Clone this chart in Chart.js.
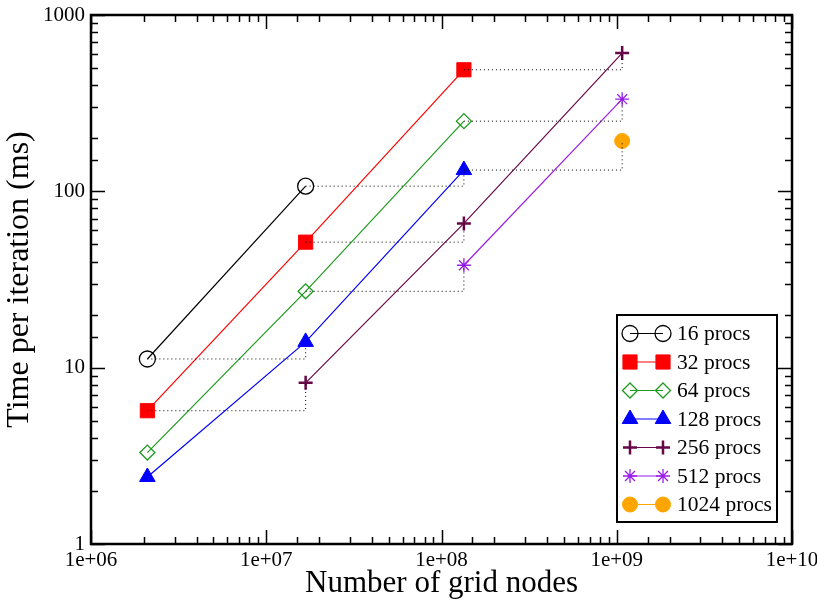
<!DOCTYPE html>
<html>
<head>
<meta charset="utf-8">
<script src="https://cdn.jsdelivr.net/npm/chart.js@4.4.0/dist/chart.umd.min.js"></script>
<style>
  html, body { margin: 0; padding: 0; background: #fff; }
  #wrap { width: 817px; height: 602px; }
</style>
</head>
<body>
<div id="wrap"><canvas id="myChart" width="817" height="602"></canvas></div>
<script>
// Grid sizes: 128^3, 256^3, 512^3, 1024^3
const gridNodes = [2097152, 16777216, 134217728, 1073741824];

// Time per iteration (ms), null where there is no run
const procs16 = [11.2, 107, null, null];
const procs32 = [5.7, 51.5, 489, null];
const procs64 = [3.3, 27.1, 250, null];
const procs128 = [2.4, 14, 132, null];
const procs256 = [null, 8.2, 65.8, 608];
const procs512 = [null, null, 38.1, 333];
const procs1024 = [null, null, null, 193];

const seriesNames = ["16 procs", "32 procs", "64 procs", "128 procs", "256 procs", "512 procs", "1024 procs"];

// Weak scaling links: [from series, to series, grid index of the start point]
const weakLinks = [
  [0, 3, 0],
  [1, 4, 0],
  [0, 3, 1],
  [1, 4, 1],
  [2, 5, 1],
  [1, 4, 2],
  [2, 5, 2],
  [3, 6, 2],
];

const xTickValues = [1e6, 1e7, 1e8, 1e9, 1e10];
const xTickLabels = ["1e+06", "1e+07", "1e+08", "1e+09", "1e+10"];
const yTickValues = [1, 10, 100, 1000];
const yTickLabels = ["1", "10", "100", "1000"];

const FONT = "'Liberation Serif', 'Times New Roman', serif";

const allSeries = [procs16, procs32, procs64, procs128, procs256, procs512, procs1024];

const styles = [
  { color: "#000000", pointStyle: "circle", radius: 8, fill: "rgba(0,0,0,0)", pw: 1.3 },
  { color: "#ff0000", pointStyle: "rect", radius: 10, fill: "#ff0000", pw: 1 },
  { color: "#1e9a1e", pointStyle: "rectRot", radius: 7.5, fill: "rgba(0,0,0,0)", pw: 1.3 },
  { color: "#0000ff", pointStyle: "triangle", radius: 9, fill: "#0000ff", pw: 1 },
  { color: "#670748", pointStyle: "cross", radius: 7, fill: "#670748", pw: 2.5 },
  { color: "#9a1ee6", pointStyle: "star", radius: 7, fill: "#9a1ee6", pw: 1.3 },
  { color: "#ffa500", pointStyle: "circle", radius: 7.5, fill: "#ffa500", pw: 1 },
];

function toPoints(values) {
  const pts = [];
  values.forEach((v, i) => {
    if (v !== null) pts.push({ x: gridNodes[i], y: v });
  });
  return pts;
}

const datasets = allSeries.map((values, i) => ({
  label: seriesNames[i],
  data: toPoints(values),
  borderColor: styles[i].color,
  borderWidth: 1.2,
  pointStyle: styles[i].pointStyle,
  pointRadius: styles[i].radius,
  pointHoverRadius: styles[i].radius,
  pointBorderWidth: styles[i].pw,
  pointBorderColor: styles[i].color,
  pointBackgroundColor: styles[i].fill,
  fill: false,
  tension: 0,
  order: 1,
  inLegend: true,
}));

// dotted step connectors between runs with 8x nodes and 8x procs
weakLinks.forEach(([a, b, k]) => {
  const y1 = allSeries[a][k];
  const y2 = allSeries[b][k + 1];
  datasets.push({
    label: "",
    data: [
      { x: gridNodes[k], y: y1 },
      { x: gridNodes[k + 1], y: y1 },
      { x: gridNodes[k + 1], y: y2 },
    ],
    borderColor: "#000000",
    borderWidth: 1,
    borderDash: [1, 3],
    pointRadius: 0,
    pointHoverRadius: 0,
    fill: false,
    tension: 0,
    order: -1,
    inLegend: false,
  });
});

function findLabel(value, values, labels) {
  for (let i = 0; i < values.length; i++) {
    if (Math.abs(value - values[i]) / values[i] < 1e-6) return labels[i];
  }
  return "";
}

function isDecade(v) {
  const l = Math.log10(v);
  return Math.abs(l - Math.round(l)) < 1e-6;
}

// inward ticks on all four sides plus the frame
const frameTicks = {
  id: "frameTicks",
  afterDraw(chart) {
    const { ctx, chartArea } = chart;
    const { left, right, top, bottom } = chartArea;
    const xs = chart.scales.x;
    const ys = chart.scales.y;
    ctx.save();
    ctx.strokeStyle = "#000";
    ctx.lineWidth = 1.5;
    ctx.beginPath();
    xs.ticks.forEach((t) => {
      const px = Math.round(xs.getPixelForValue(t.value)) + 0.5;
      const len = isDecade(t.value) ? 14 : 7;
      ctx.moveTo(px, bottom);
      ctx.lineTo(px, bottom - len);
      ctx.moveTo(px, top);
      ctx.lineTo(px, top + len);
    });
    ys.ticks.forEach((t) => {
      const py = Math.round(ys.getPixelForValue(t.value)) + 0.5;
      const len = isDecade(t.value) ? 14 : 7;
      ctx.moveTo(left, py);
      ctx.lineTo(left + len, py);
      ctx.moveTo(right, py);
      ctx.lineTo(right - len, py);
    });
    ctx.stroke();
    ctx.lineWidth = 2.5;
    ctx.strokeRect(left, top, right - left, bottom - top);
    ctx.restore();
  },
};

const insideLegend = {
  id: "insideLegend",
  afterDraw(chart) {
    const { ctx, chartArea } = chart;
    const boxW = 160;
    const boxH = 207;
    const bx = chartArea.right - 15 - boxW;
    const by = chartArea.bottom - 22 - boxH;
    const rowH = 28.5;
    ctx.save();
    ctx.fillStyle = "#fff";
    ctx.fillRect(bx, by, boxW, boxH);
    ctx.strokeStyle = "#000";
    ctx.lineWidth = 2;
    ctx.strokeRect(bx, by, boxW, boxH);

    let row = 0;
    chart.data.datasets.forEach((ds) => {
      if (!ds.inLegend) return;
      const cy = by + 18.5 + row * rowH;
      const x1 = bx + 13;
      const x2 = bx + 46;
      ctx.strokeStyle = ds.borderColor;
      ctx.lineWidth = ds.borderWidth;
      ctx.setLineDash([]);
      ctx.beginPath();
      ctx.moveTo(x1, cy);
      ctx.lineTo(x2, cy);
      ctx.stroke();
      [x1, x2].forEach((px) => {
        ctx.fillStyle = ds.pointBackgroundColor;
        ctx.strokeStyle = ds.pointBorderColor;
        ctx.lineWidth = ds.pointBorderWidth;
        Chart.helpers.drawPoint(ctx, {
          pointStyle: ds.pointStyle,
          rotation: 0,
          radius: ds.pointRadius,
          borderWidth: ds.pointBorderWidth,
        }, px, cy);
      });
      ctx.fillStyle = "#000";
      ctx.font = "21.5px " + FONT;
      ctx.textAlign = "left";
      ctx.textBaseline = "middle";
      ctx.fillText(ds.label, bx + 60, cy + 1);
      row++;
    });
    ctx.restore();
  },
};

new Chart(document.getElementById("myChart"), {
  type: "line",
  data: { datasets: datasets },
  options: {
    responsive: false,
    animation: false,
    devicePixelRatio: 1,
    layout: { padding: { top: 15, right: 25, left: 0, bottom: 0 } },
    plugins: {
      legend: { display: false },
      tooltip: { enabled: false },
    },
    scales: {
      x: {
        type: "logarithmic",
        position: "bottom",
        min: 1e6,
        max: 1e10,
        grid: { display: false, drawTicks: false },
        border: { display: false },
        ticks: {
          autoSkip: false,
          maxRotation: 0,
          padding: 4,
          color: "#000",
          font: { family: FONT, size: 21 },
          callback: (v) => findLabel(v, xTickValues, xTickLabels),
        },
        title: {
          display: true,
          text: "Number of grid nodes",
          color: "#000",
          font: { family: FONT, size: 31 },
          padding: { top: 0, bottom: 0 },
        },
        afterFit: (s) => {
          s.height = 58;
          s.paddingLeft = 0;
          s.paddingRight = 0;
        },
      },
      y: {
        type: "logarithmic",
        position: "left",
        min: 1,
        max: 1000,
        grid: { display: false, drawTicks: false },
        border: { display: false },
        ticks: {
          autoSkip: false,
          padding: 6,
          color: "#000",
          font: { family: FONT, size: 21 },
          callback: (v) => findLabel(v, yTickValues, yTickLabels),
        },
        title: {
          display: true,
          text: "Time per iteration (ms)",
          color: "#000",
          font: { family: FONT, size: 32 },
          padding: { top: 0, bottom: 0 },
        },
        afterFit: (s) => {
          s.width = 91;
          s.paddingTop = 0;
          s.paddingBottom = 0;
        },
      },
    },
  },
  plugins: [frameTicks, insideLegend],
});
</script>
</body>
</html>
